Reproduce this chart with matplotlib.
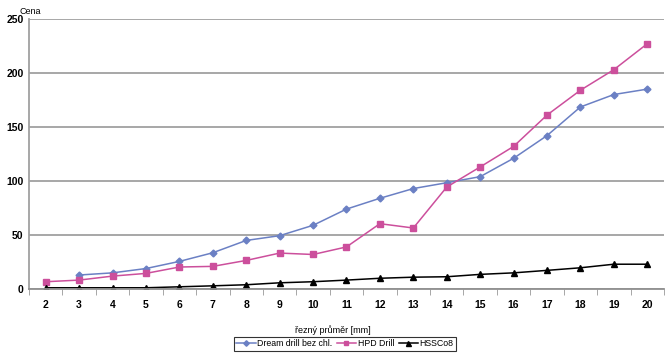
import matplotlib
matplotlib.use("Agg")
import matplotlib.pyplot as plt

plt.rcParams['font.family'] = ['Liberation Sans', 'DejaVu Sans']

prumer = list(range(2, 21))
dream_x = list(range(3, 21))
dream = [13, 15, 19, 25.6, 33.6, 45, 49.4, 59, 74, 84, 93, 98.4, 104, 121, 142, 168.5, 180, 185]
hpd = [6.8, 8.3, 12, 14.5, 20.4, 21, 26.5, 33.3, 32, 39, 60.5, 56.5, 94.4, 113, 132, 161, 184, 203, 227]
hssco8 = [1.2, 1.2, 1.2, 1.2, 2.1, 3, 4, 5.8, 6.8, 8.3, 10, 11, 11.4, 13.6, 15, 17.3, 19.7, 23, 23]
y_ticks = [0, 50, 100, 150, 200, 250]

fig = plt.figure(figsize=(6.66, 3.56), dpi=100)
ax = fig.add_axes([0.0435, 0.188, 0.9535, 0.759])

ax.plot(dream_x, dream, color='#6b80c4', lw=1.1, marker='D', ms=3.5,
        label='Dream drill bez chl.')
ax.plot(prumer, hpd, color='#cc4f9c', lw=1.1, marker='s', ms=3.8,
        label='HPD Drill')
ax.plot(prumer, hssco8, color='black', lw=1.1, marker='^', ms=4.5,
        label='HSSCo8')

ax.set_xlim(1.5, 20.5)
ax.set_ylim(0, 250)
ax.set_yticks(y_ticks)
ax.set_xticks(prumer)
ax.set_xticks([p + 0.5 for p in range(1, 21)], minor=True)
ax.tick_params(axis='x', which='major', length=0, pad=8, labelsize=7.5)
ax.tick_params(axis='x', which='minor', length=4, color='#999999', direction='out')
ax.tick_params(axis='y', length=0, pad=4, labelsize=7.5)
for lab in ax.get_xticklabels() + ax.get_yticklabels():
    lab.set_fontweight('bold')

ax.grid(axis='y', color='#a0a0a0', lw=1.3)
ax.set_axisbelow(True)
for s in ['top', 'right']:
    ax.spines[s].set_visible(False)
ax.spines['left'].set_color('#a0a0a0')
ax.spines['bottom'].set_color('#909090')
ax.spines['left'].set_linewidth(1.3)
ax.spines['bottom'].set_linewidth(1.3)

fig.text(0.029, 0.968, 'Cena', fontsize=6.5, ha='left', va='center')
fig.text(0.5, 0.073, 'řezný průměr [mm]', fontsize=6.5, ha='center', va='center')

leg = fig.legend(loc='center', bbox_to_anchor=(0.518, 0.034), ncol=3, fontsize=6.3,
                 frameon=True, fancybox=False, edgecolor='black', handlelength=2.2,
                 handletextpad=0.2, columnspacing=0.5, borderpad=0.3,
                 markerscale=0.8)
leg.get_frame().set_linewidth(0.8)

fig.savefig('out.png', dpi=100)
